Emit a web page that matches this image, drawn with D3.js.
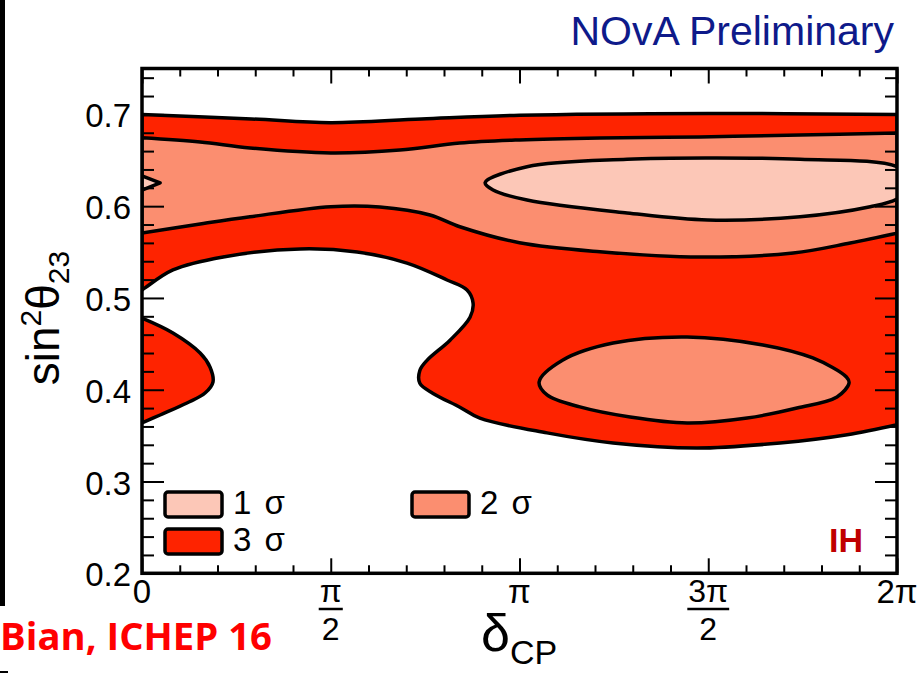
<!DOCTYPE html>
<html>
<head>
<meta charset="utf-8">
<script src="https://cdn.jsdelivr.net/npm/d3@7"></script>
<style>
  body { margin: 0; background: #fff; }
  svg { display: block; font-family: "Liberation Sans", Arial, sans-serif; }
</style>
</head>
<body>
<svg id="chart" width="919" height="673"></svg>
<script>
// contour boundaries, [deltaCP / pi, sin^2 theta23]
var sigma3Top = [[0, 0.700], [0.29, 0.695], [0.5, 0.691], [0.74, 0.695], [1.0, 0.699], [1.5, 0.701], [2.0, 0.700]];
var sigma3Lower = [[2.0, 0.362], [1.868, 0.351], [1.69, 0.342], [1.47, 0.3365], [1.248, 0.342], [1.073, 0.353],
  [0.895, 0.369], [0.842, 0.381], [0.771, 0.396], [0.736, 0.407], [0.736, 0.421], [0.755, 0.432], [0.816, 0.454],
  [0.869, 0.479], [0.877, 0.4945], [0.861, 0.5087], [0.808, 0.5196], [0.702, 0.538], [0.57, 0.550], [0.419, 0.5534],
  [0.215, 0.5447], [0.082, 0.5306], [0.008, 0.511], [0, 0.5087]];
var sigma3LeftBlob = [[0, 0.478], [0.082, 0.4618], [0.154, 0.440], [0.18, 0.4248], [0.188, 0.4084], [0.167, 0.3964],
  [0.119, 0.3856], [0.048, 0.3725], [0, 0.3638]];
var sigma2Top = [[0, 0.6746], [0.154, 0.6699], [0.286, 0.6634], [0.5, 0.658], [0.683, 0.6612], [0.842, 0.6688],
  [1.0, 0.6722], [1.213, 0.6743], [1.478, 0.6754], [1.743, 0.6776], [2.0, 0.6798]];
var sigma2Bottom = [[2.0, 0.5705], [1.876, 0.5599], [1.725, 0.549], [1.478, 0.5446], [1.213, 0.5504], [1.0, 0.5602],
  [0.842, 0.5776], [0.763, 0.5904], [0.63, 0.5991], [0.5, 0.5994], [0.286, 0.5885], [0.154, 0.5806], [0, 0.5708]];
var sigma2Ellipse = [[1.052, 0.4084], [1.115, 0.4324], [1.248, 0.4509], [1.444, 0.4575], [1.645, 0.4488],
  [1.777, 0.4346], [1.866, 0.4139], [1.873, 0.4074], [1.841, 0.3921], [1.735, 0.3801], [1.603, 0.3692],
  [1.444, 0.3638], [1.293, 0.3703], [1.16, 0.3813], [1.073, 0.3943]];
var sigma1Ellipse = [[0.909, 0.6256], [1.02, 0.643], [1.285, 0.6511], [1.499, 0.6525], [1.743, 0.6511],
  [2.0, 0.643], [2.05, 0.625], [2.0, 0.6078], [1.929, 0.5994], [1.743, 0.5885], [1.499, 0.5849],
  [1.285, 0.5926], [1.02, 0.6067], [0.93, 0.6176]];
var sigma1Edge = [[0, 0.6329], [0.048, 0.6253], [0, 0.6176]];

var xMajor = [0, 0.5, 1, 1.5, 2];
var xMajorLabels = ["0", "π/2", "π", "3π/2", "2π"];
var yMajor = [0.2, 0.3, 0.4, 0.5, 0.6, 0.7];
var legendLabels = ["1 σ", "2 σ", "3 σ"];

(function() {
  var colors = { s1: "#fcc7b7", s2: "#fb8e70", s3: "#fe2300" };

  var svg = d3.select("#chart");
  var pLeft = 142, pRight = 897, pTop = 68.5, pBottom = 573.3;

  var x = d3.scaleLinear().domain([0, 2]).range([pLeft, pRight]);
  var y = d3.scaleLinear().domain([0.2, 0.75]).range([pBottom, pTop]);

  var xMinor = d3.range(0, 2.001, 0.1).filter(function(d) { return Math.abs(d * 2 - Math.round(d * 2)) > 1e-6; });
  var yMinor = d3.range(0.2, 0.7501, 0.02).filter(function(d) { return Math.abs(d * 10 - Math.round(d * 10)) > 1e-6; });

  // page decorations
  svg.append("rect").attr("x", 0).attr("y", 0).attr("width", 5).attr("height", 606).attr("fill", "#000");
  svg.append("rect").attr("x", 0).attr("y", 671).attr("width", 8).attr("height", 2).attr("fill", "#000");

  svg.append("defs").append("clipPath").attr("id", "plotclip")
    .append("rect").attr("x", pLeft).attr("y", pTop).attr("width", pRight - pLeft).attr("height", pBottom - pTop);

  // {{{ contours
  function lineOf(curve) {
    return d3.line().x(function(d) { return x(d[0]); }).y(function(d) { return y(d[1]); }).curve(curve);
  }
  function regionPath(parts) {
    var line = lineOf(d3.curveCatmullRom.alpha(0.5));
    return parts.map(function(pts, i) {
      var s = line(pts);
      return i ? "L" + s.slice(1) : s;
    }).join("") + "Z";
  }
  var closedLine = lineOf(d3.curveCatmullRomClosed.alpha(0.5));

  var plot = svg.append("g").attr("clip-path", "url(#plotclip)");
  var shapes = [
    { d: regionPath([sigma3Top, sigma3Lower]), fill: colors.s3 },
    { d: regionPath([sigma3LeftBlob]), fill: colors.s3 },
    { d: regionPath([sigma2Top, sigma2Bottom]), fill: colors.s2 },
    { d: closedLine(sigma2Ellipse), fill: colors.s2 },
    { d: closedLine(sigma1Ellipse), fill: colors.s1 },
    { d: lineOf(d3.curveLinear)(sigma1Edge) + "Z", fill: colors.s1 }
  ];
  plot.selectAll("path").data(shapes).enter().append("path")
    .attr("d", function(d) { return d.d; })
    .attr("fill", function(d) { return d.fill; })
    .attr("stroke", "#000")
    .attr("stroke-width", 3.5)
    .attr("stroke-linejoin", "round");
  // }}}

  // {{{ axes
  function tickAxis(axis, transform) {
    var g = svg.append("g").attr("transform", transform).call(axis);
    g.select(".domain").remove();
    g.selectAll("line").attr("stroke", "#000").attr("stroke-width", 2);
    return g;
  }
  tickAxis(d3.axisBottom(x).tickValues(xMinor).tickSize(-8).tickFormat(""), "translate(0," + pBottom + ")");
  tickAxis(d3.axisBottom(x).tickValues(xMajor).tickSize(-15).tickFormat(""), "translate(0," + pBottom + ")");
  tickAxis(d3.axisTop(x).tickValues(xMinor).tickSize(-8).tickFormat(""), "translate(0," + pTop + ")");
  tickAxis(d3.axisTop(x).tickValues(xMajor).tickSize(-15).tickFormat(""), "translate(0," + pTop + ")");
  tickAxis(d3.axisLeft(y).tickValues(yMinor).tickSize(-12).tickFormat(""), "translate(" + pLeft + ",0)");
  tickAxis(d3.axisRight(y).tickValues(yMinor).tickSize(-12).tickFormat(""), "translate(" + pRight + ",0)");
  tickAxis(d3.axisRight(y).tickValues(yMajor).tickSize(-22).tickFormat(""), "translate(" + pRight + ",0)");
  var yAx = tickAxis(d3.axisLeft(y).tickValues(yMajor).tickSize(-22).tickPadding(11).tickFormat(d3.format(".1f")),
    "translate(" + pLeft + ",0)");
  yAx.selectAll("text").attr("font-size", 33).attr("fill", "#000")
    .attr("font-family", "Liberation Sans, Arial, sans-serif").attr("dy", "0.38em");

  svg.append("rect").attr("x", pLeft).attr("y", pTop).attr("width", pRight - pLeft).attr("height", pBottom - pTop)
    .attr("fill", "none").attr("stroke", "#000").attr("stroke-width", 3.5);

  // x labels, fractions drawn as numerator / bar / denominator
  xMajor.forEach(function(v, i) {
    var lab = xMajorLabels[i], cx = x(v);
    var parts = lab.split("/");
    if (parts.length === 1) {
      svg.append("text").attr("x", cx).attr("y", 603).attr("text-anchor", "middle")
        .attr("font-size", 33).text(lab);
    } else {
      var num = svg.append("text").attr("x", cx).attr("y", 602).attr("text-anchor", "middle")
        .attr("font-size", 32).text(parts[0]);
      var w = num.node().getComputedTextLength();
      svg.append("line").attr("x1", cx - w / 2 - 1).attr("x2", cx + w / 2 + 1)
        .attr("y1", 609).attr("y2", 609).attr("stroke", "#000").attr("stroke-width", 2.5);
      svg.append("text").attr("x", cx).attr("y", 640).attr("text-anchor", "middle")
        .attr("font-size", 32).text(parts[1]);
    }
  });
  // }}}

  // axis titles
  var xt = svg.append("text").attr("x", 481).attr("y", 651);
  xt.append("tspan").attr("font-size", 52).text("δ");
  xt.append("tspan").attr("font-size", 34).attr("dy", 13).text("CP");

  var yt = svg.append("text").attr("transform", "translate(59,318) rotate(-90)").attr("text-anchor", "middle");
  yt.append("tspan").attr("font-size", 46).text("sin");
  yt.append("tspan").attr("font-size", 30).attr("dy", -18).text("2");
  yt.append("tspan").attr("font-size", 46).attr("dy", 18).text("θ");
  yt.append("tspan").attr("font-size", 30).attr("dy", 10).text("23");

  // legend
  var legendPos = [[165, 492], [412, 492], [165, 529]];
  var legendFill = [colors.s1, colors.s2, colors.s3];
  legendLabels.forEach(function(lab, i) {
    var p = legendPos[i];
    svg.append("rect").attr("x", p[0]).attr("y", p[1]).attr("width", 57).attr("height", 25).attr("rx", 3)
      .attr("fill", legendFill[i]).attr("stroke", "#000").attr("stroke-width", 3.5);
    svg.append("text").attr("x", p[0] + 68).attr("y", p[1] + 22).attr("font-size", 33)
      .attr("word-spacing", 4).text(lab);
  });

  // annotations
  svg.append("text").attr("x", 894).attr("y", 45).attr("text-anchor", "end")
    .attr("font-size", 41).attr("fill", "#0e1a8a").text("NOvA Preliminary");
  svg.append("text").attr("x", 863).attr("y", 552).attr("text-anchor", "end")
    .attr("font-size", 34).attr("font-weight", "bold").attr("fill", "#c00000").text("IH");
  svg.append("text").attr("x", 0).attr("y", 650).attr("font-size", 37).attr("font-weight", "bold")
    .attr("font-family", "Open Sans, sans-serif").attr("fill", "#ff0000")
    .attr("textLength", 272).attr("lengthAdjust", "spacingAndGlyphs").text("Bian, ICHEP 16");
})();
</script>
</body>
</html>
